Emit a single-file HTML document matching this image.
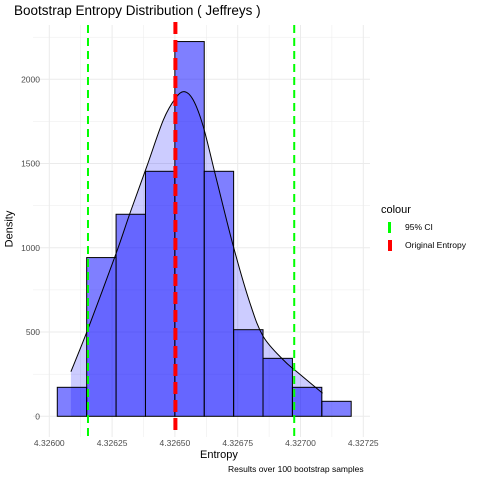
<!DOCTYPE html>
<html><head><meta charset="utf-8"><style>body{margin:0;background:#fff}svg{display:block;font-family:"Liberation Sans",sans-serif}</style></head>
<body>
<svg id="c" width="480" height="480"></svg>
<script>
const binStart=4.3260318, binWidth=0.000117;
const counts=[172,942,1199,1454,2224,1454,514,344,172,89];
const curveX=[4.326086,4.326155,4.326266,4.326321,4.326388,4.326454,4.326502,4.326537,4.326573,4.326613,4.326666,4.326733,4.326799,4.326852,4.326932,4.326985,4.327088];
const curveY=[265,522,967,1205,1482,1759,1887,1927,1877,1719,1403,1007,671,473,334,265,137];
const ciValues=[4.326154,4.326975];
const originalEntropy=4.326502;
const xTicks=[4.326,4.32625,4.3265,4.32675,4.327,4.32725];
const xTickLabels=["4.32600","4.32625","4.32650","4.32675","4.32700","4.32725"];
const yTicks=[0,500,1000,1500,2000];

const NS="http://www.w3.org/2000/svg";
const svg=document.getElementById('c');
const X=v=>49.3+(v-4.326)/0.00025*62.8;
const Y=v=>416.3-v*0.1685;
const L={x0:33,x1:370,y0:25,y1:437};
function el(t,a,p){const e=document.createElementNS(NS,t);for(const k in a)e.setAttribute(k,a[k]);(p||svg).appendChild(e);return e;}
function smooth(pts){let s='M'+pts[0][0]+','+pts[0][1];
for(let i=0;i<pts.length-1;i++){const p0=pts[Math.max(0,i-1)],p1=pts[i],p2=pts[i+1],p3=pts[Math.min(pts.length-1,i+2)];
const c1=[p1[0]+(p2[0]-p0[0])/6,p1[1]+(p2[1]-p0[1])/6],c2=[p2[0]-(p3[0]-p1[0])/6,p2[1]-(p3[1]-p1[1])/6];
s+='C'+c1[0]+','+c1[1]+' '+c2[0]+','+c2[1]+' '+p2[0]+','+p2[1];}return s;}
// grid
for(let v=4.325875;v<4.3273;v+=0.000125){const major=Math.abs(Math.round(v/0.00025)*0.00025-v)<1e-9;const x=X(v);if(x<L.x0||x>L.x1)continue;
const g=el('line',{x1:x,x2:x,y1:L.y0,y2:L.y1,stroke:'#ebebeb','stroke-width':major?1:0.5});
}
for(let v=-250;v<=2250;v+=250){const y=Y(v);if(y<L.y0||y>L.y1)continue;const major=v%500===0;
const g=el('line',{x1:L.x0,x2:L.x1,y1:y,y2:y,stroke:'#ebebeb','stroke-width':major?1:0.5});
}
const pts=curveX.map((x,i)=>[X(x),Y(curveY[i])]);
const curvePath=smooth(pts);
// density area
const d=curvePath+'L'+X(curveX[curveX.length-1])+','+Y(0)+'L'+X(curveX[0])+','+Y(0)+'Z';
const area=el('path',{d:d,fill:'#0000ff','fill-opacity':0.2});

// bars
counts.forEach((c,i)=>{const x0=X(binStart+i*binWidth),x1=X(binStart+(i+1)*binWidth);
const b=el('rect',{x:x0,y:Y(c),width:x1-x0,height:Y(0)-Y(c),fill:'#0000ff','fill-opacity':0.5,stroke:'#000','stroke-width':1});
});
// curve line
const cl=el('path',{d:curvePath,fill:'none',stroke:'#000','stroke-width':1});

// vlines
ciValues.forEach(v=>{const l=el('line',{x1:X(v),x2:X(v),y1:L.y0,y2:L.y1,stroke:'#00ff00','stroke-width':2,'stroke-dasharray':'8,5'});
});
const r=el('line',{x1:X(originalEntropy),x2:X(originalEntropy),y1:L.y0-3,y2:L.y1-2,stroke:'#ff0000','stroke-width':4,'stroke-dasharray':'12,6'});

// ticks
xTicks.forEach((v,i)=>{const t=el('text',{x:X(v),y:446,'font-size':8.5,fill:'#4d4d4d','text-anchor':'middle'});t.textContent=xTickLabels[i];
});
yTicks.forEach(v=>{const t=el('text',{x:40,y:Y(v)+3,'font-size':8.5,fill:'#4d4d4d','text-anchor':'end'});t.textContent=v;
});
</script>
<div style="position:absolute;left:0;top:0;width:480px;height:480px;pointer-events:none;font-family:'Liberation Sans',sans-serif">
<div style="position:absolute;left:14px;top:3px;font-size:13.5px;color:#000">Bootstrap Entropy Distribution ( Jeffreys )</div>
<div style="position:absolute;left:200px;top:449px;font-size:11px">Entropy</div>
<div style="position:absolute;left:-9px;top:223px;font-size:11px;transform:rotate(-90deg)">Density</div>
<div style="position:absolute;left:228px;top:464px;font-size:8.5px">Results over 100 bootstrap samples</div>
<div style="position:absolute;left:381px;top:204px;font-size:11px">colour</div>
<div style="position:absolute;left:388px;top:222px;font-size:8.5px"><span style="display:inline-block;width:3px;height:11px;background:#00ff00;vertical-align:middle;margin-right:14px"></span>95% CI</div>
<div style="position:absolute;left:388px;top:240px;font-size:8.5px"><span style="display:inline-block;width:4px;height:11px;background:#ff0000;vertical-align:middle;margin-right:13px"></span>Original Entropy</div>
</div>
</body></html>
